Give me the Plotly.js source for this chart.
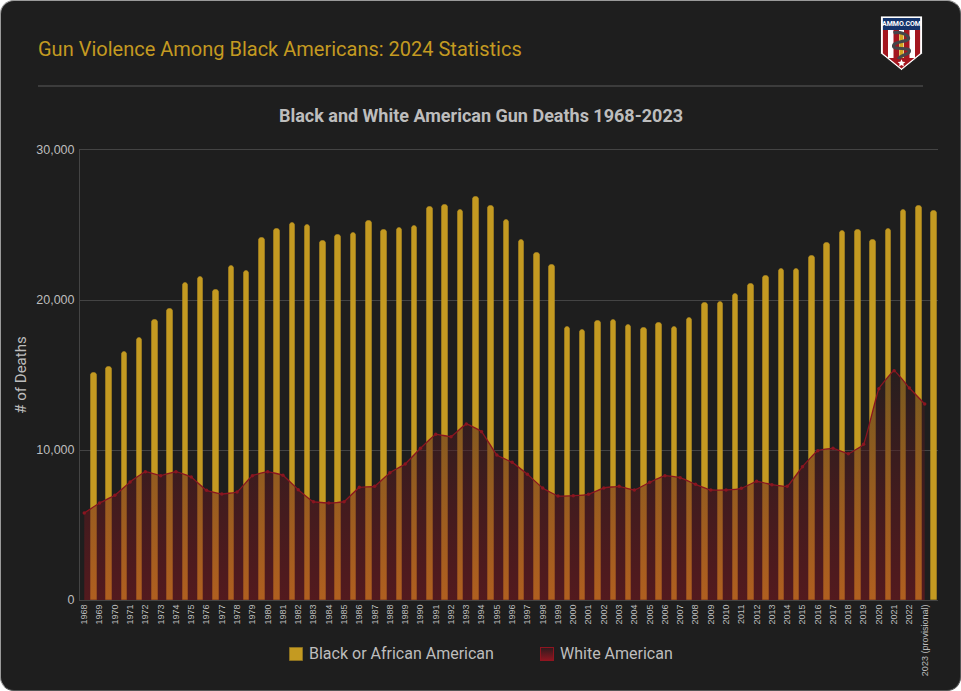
<!DOCTYPE html>
<html>
<head>
<meta charset="utf-8">
<script src="https://cdn.plot.ly/plotly-3.0.1.min.js"></script>
<style>
html,body{margin:0;padding:0;background:#fff;width:961px;height:691px;overflow:hidden}
#card{position:absolute;left:0;top:0;width:961px;height:691px;box-sizing:border-box;background:#1e1e1e;border-radius:14px;border:1px solid #9a9a9a;border-bottom-color:#555;border-right-color:#555}
#chart{position:absolute;left:0;top:0;width:961px;height:691px}
</style>
</head>
<body>
<div id="card"></div>
<div id="chart"></div>
<script>
const years = ["1968","1969","1970","1971","1972","1973","1974","1975","1976","1977","1978","1979","1980","1981","1982","1983","1984","1985","1986","1987","1988","1989","1990","1991","1992","1993","1994","1995","1996","1997","1998","1999","2000","2001","2002","2003","2004","2005","2006","2007","2008","2009","2010","2011","2012","2013","2014","2015","2016","2017","2018","2019","2020","2021","2022","2023 (provisional)"];
const blackDeaths = [15155,15533,16556,17489,18689,19400,21155,21533,20644,22289,21911,24156,24756,25133,24978,23956,24333,24444,25244,24689,24800,24933,26178,26333,26000,26844,26289,25356,24000,23156,22356,18178,17978,18578,18689,18356,18133,18444,18222,18778,19800,19844,20422,21067,21622,22044,22060,22933,23778,24622,24689,24022,24733,25978,26244,25911];
const whiteDeaths = [5800,6467,6978,7867,8556,8289,8556,8200,7311,7067,7200,8289,8556,8311,7356,6556,6467,6556,7511,7578,8489,9067,10111,11044,10889,11733,11222,9667,9178,8378,7467,6933,6956,7044,7467,7578,7333,7844,8289,8156,7711,7333,7333,7444,7911,7689,7578,8889,9956,10111,9756,10378,14089,15289,14133,13067];
const seriesNames = ["Black or African American","White American"];
const pageTitle = "Gun Violence Among Black Americans: 2024 Statistics";
const chartTitle = "Black and White American Gun Deaths 1968-2023";
const yAxisTitle = "# of Deaths";
const logoText = "AMMO.COM";

const W=961,H=691,L=80,R=23,T=150,B=91;
const pw=W-L-R, ph=H-T-B;
const px=x=>(x-L)/pw, py=y=>1-(y-T)/ph;
const gold="#c49a21", txt="#bdbdbd", font="Roboto, sans-serif";

const logo='<svg xmlns="http://www.w3.org/2000/svg" width="176" height="224" viewBox="0 0 44 56">'+
 '<defs><clipPath id="c"><path d="M3 3H41V38L22 53.5L3 38Z"/></clipPath></defs>'+
 '<path d="M1 1H43V38.5L22 55.5L1 38.5Z" fill="#fff" stroke="#111" stroke-width=".8"/>'+
 '<g clip-path="url(#c)"><rect x="3" y="3" width="38" height="51" fill="#fff"/>'+
 '<rect x="3" y="3" width="38" height="12" fill="#14346b"/>'+
 '<rect x="3" y="15" width="5.5" height="30" fill="#a3161f"/><rect x="14" y="15" width="5.5" height="30" fill="#a3161f"/>'+
 '<rect x="24.5" y="15" width="5.5" height="30" fill="#a3161f"/><rect x="35.5" y="15" width="5.5" height="30" fill="#a3161f"/>'+
 '<rect x="3" y="43" width="38" height="12" fill="#a3161f"/></g>'+
 '<rect x="19.8" y="19" width="4.2" height="24" fill="#d3a51f"/>'+
 '<path d="M14 18C19 16 28 19 29 23C30 27 14 26 14 31C14 35 30 32 30 36C30 40 20 40 19 44" fill="none" stroke="#44464a" stroke-width="3.2"/>'+
 '<path d="M22 44.2l1.1 2.6 2.8.2-2.1 1.8.7 2.7-2.5-1.5-2.5 1.5.7-2.7-2.1-1.8 2.8-.2z" fill="#fff"/></svg>';
const swatch='<svg xmlns="http://www.w3.org/2000/svg" width="56" height="56" viewBox="0 0 14 14"><defs><linearGradient id="g" x1="0" y1="0" x2="0" y2="1"><stop offset="0" stop-color="#2c1c1e"/><stop offset="1" stop-color="#8f1520"/></linearGradient></defs><rect x=".5" y=".5" width="13" height="13" fill="url(#g)" stroke="#8f1520"/></svg>';
const uri=s=>"data:image/svg+xml;base64,"+btoa(s);

const traces=[
 {type:"bar",name:seriesNames[0],x:years,y:blackDeaths,offset:0.44,width:0.36,
  marker:{color:gold,cornerradius:2.5,line:{color:"rgba(196,154,33,0.45)",width:1}},showlegend:false},
 {type:"scatter",name:seriesNames[1],x:years,y:whiteDeaths,mode:"lines+markers",
  line:{color:"#8a1520",width:1.3,shape:"spline",smoothing:0.25},marker:{color:"#8a1520",size:3.5},
  fill:"tozeroy",fillgradient:{type:"vertical",start:0,stop:15300,
   colorscale:[[0,"rgba(149,20,30,0.44)"],[1,"rgba(48,30,30,0.52)"]]},showlegend:false}
];
const layout={
 width:W,height:H,margin:{l:L,r:R,t:T,b:B,pad:0},paper_bgcolor:"rgba(0,0,0,0)",plot_bgcolor:"rgba(0,0,0,0)",
 font:{family:font,color:txt},showlegend:false,bargap:0,
 title:{text:chartTitle,x:481/W,xanchor:"center",y:1-116/H,yanchor:"middle",font:{family:font,size:18,weight:700,color:txt}},
 xaxis:{type:"category",range:[-0.28,55.87],tickmode:"array",tickvals:years,ticktext:years,tickangle:-90,ticks:"",ticklabelshift:1.5,
  tickfont:{family:"Liberation Sans, Arial, sans-serif",size:9,color:txt},showgrid:false,showline:true,mirror:true,linecolor:"#444",linewidth:1,zeroline:false,automargin:false},
 yaxis:{range:[0,30000],tick0:0,dtick:10000,tickformat:",",ticks:"",ticklabelstandoff:2,
  tickfont:{family:"Liberation Sans, Arial, sans-serif",size:12.5,color:txt},gridcolor:"#444",gridwidth:1,showline:true,linecolor:"#444",linewidth:1,zeroline:false,automargin:false,
  title:{text:yAxisTitle,standoff:6,font:{family:font,size:15,color:txt}}},
 shapes:[
  {type:"line",xref:"paper",yref:"paper",x0:px(38),x1:px(923),y0:py(86),y1:py(86),line:{color:"#3c3c3c",width:2}},
  {type:"rect",xref:"paper",yref:"paper",x0:px(289.5),x1:px(302.5),y0:py(647.5),y1:py(660.5),fillcolor:gold,line:{color:"#8a7020",width:1}}
 ],
 images:[
  {source:uri(logo),xref:"paper",yref:"paper",x:px(879.5),y:py(15),sizex:44/pw,sizey:56/ph,xanchor:"left",yanchor:"top",sizing:"stretch",layer:"above"},
  {source:uri(swatch),xref:"paper",yref:"paper",x:px(540),y:py(647),sizex:14/pw,sizey:14/ph,xanchor:"left",yanchor:"top",sizing:"stretch",layer:"above"}
 ],
 annotations:[
  {text:pageTitle,xref:"paper",yref:"paper",x:px(38),y:py(49.5),xanchor:"left",yanchor:"middle",showarrow:false,xshift:-2,font:{family:font,size:20,color:gold}},
  {text:logoText,xref:"paper",yref:"paper",x:px(901.5),y:py(24),xanchor:"center",yanchor:"middle",showarrow:false,font:{family:font,size:7,weight:700,color:"#fff"}},
  {text:seriesNames[0],xref:"paper",yref:"paper",x:px(309),y:py(653),xanchor:"left",yanchor:"middle",showarrow:false,xshift:-2,font:{family:font,size:16,color:txt}},
  {text:seriesNames[1],xref:"paper",yref:"paper",x:px(560),y:py(653),xanchor:"left",yanchor:"middle",showarrow:false,xshift:-2,font:{family:font,size:16,color:txt}}
 ]
};
Plotly.newPlot("chart",traces,layout,{displayModeBar:false,responsive:false});
</script>
</body>
</html>
